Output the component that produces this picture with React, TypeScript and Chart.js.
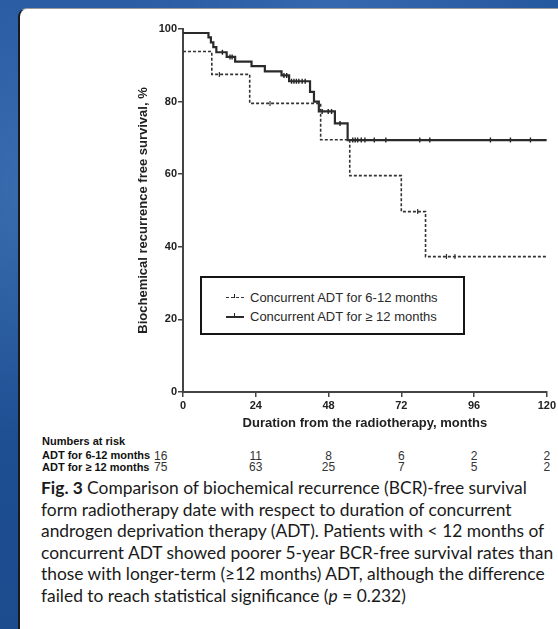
import React, { useEffect, useRef, useState } from "react";
import { Chart, registerables } from "chart.js";
Chart.register(...registerables);

// ADT for 6-12 months (Kaplan-Meier steps)
const shortTimes = [0, 9.5, 22, 45.4, 55, 72, 80, 120];
const shortSurv = [93.8, 87.5, 79.5, 69.5, 59.6, 49.7, 37.3, 37.3];
const shortCensorTimes = [12, 28.7, 77.4, 86.9, 89.7];
const shortCensorSurv = [87.5, 79.5, 49.7, 37.3, 37.3];

// ADT for >= 12 months (Kaplan-Meier steps)
const longTimes = [0, 8.4, 9.2, 10.0, 11.0, 14.4, 17.2, 22.6, 27.0, 32.5, 35.0, 41.9, 43.2, 44.8, 50.1, 54.3, 120];
const longSurv = [98.9, 97.7, 96.3, 95.0, 93.6, 92.3, 91.0, 89.8, 88.3, 87.2, 85.6, 82.7, 80.0, 77.3, 74.0, 69.4, 69.4];
const longCensorTimes = [13.0, 15.5, 16.2, 33.3, 34.2, 35.8, 36.6, 37.4, 38.2, 39.3, 40.3, 45.9, 47.9, 49.0, 51.8, 56.0, 56.8, 57.6, 58.8, 60.0, 63.1, 66.9, 78.1, 81.4, 101.4, 108.0, 114.6];
const longCensorSurv = [93.6, 92.3, 92.3, 87.2, 87.2, 85.6, 85.6, 85.6, 85.6, 85.6, 85.6, 77.3, 77.3, 77.3, 74.0, 69.4, 69.4, 69.4, 69.4, 69.4, 69.4, 69.4, 69.4, 69.4, 69.4, 69.4, 69.4];

// Numbers at risk
const riskTimes = [0, 24, 48, 72, 96, 120];
const riskShort = [16, 11, 8, 6, 2, 2];
const riskLong = [75, 63, 25, 7, 5, 2];

const seriesLabels = ["Concurrent ADT for 6-12 months", "Concurrent ADT for \u2265 12 months"];
const riskLabels = ["ADT for 6-12 months", "ADT for  \u2265 12 months"];

const captionLines = [
  "Comparison of biochemical recurrence (BCR)-free survival",
  "form radiotherapy date with respect to duration of concurrent",
  "androgen deprivation therapy (ADT). Patients with < 12 months of",
  "concurrent ADT showed poorer 5-year BCR-free survival rates than",
  "those with longer-term (\u226512 months) ADT, although the difference",
  "failed to reach statistical significance (",
];

const FONT = "'Liberation Sans', Arial, sans-serif";

const toPts = (xs: number[], ys: number[]) => xs.map((x, i) => ({ x, y: ys[i] }));

export default function App() {
  const canvasRef = useRef<HTMLCanvasElement>(null);
  const [riskX, setRiskX] = useState<number[]>([]);

  useEffect(() => {
    const chart = new Chart(canvasRef.current!, {
      type: "line",
      data: {
        datasets: [
          {
            label: seriesLabels[0],
            data: toPts(shortTimes, shortSurv),
            stepped: "before",
            borderColor: "#333",
            borderWidth: 1.6,
            borderDash: [3, 2],
            pointRadius: 0,
            fill: false,
          },
          {
            label: seriesLabels[1],
            data: toPts(longTimes, longSurv),
            stepped: "before",
            borderColor: "#2a2a2a",
            borderWidth: 2.2,
            pointRadius: 0,
            fill: false,
          },
          {
            type: "scatter",
            label: "censor-short",
            data: toPts(shortCensorTimes, shortCensorSurv),
            pointStyle: "line",
            rotation: 90,
            pointRadius: 2.5,
            borderColor: "#333",
            borderWidth: 1.2,
            showLine: false,
          } as any,
          {
            type: "scatter",
            label: "censor-long",
            data: toPts(longCensorTimes, longCensorSurv),
            pointStyle: "line",
            rotation: 90,
            pointRadius: 2.5,
            borderColor: "#222",
            borderWidth: 1.4,
            showLine: false,
          } as any,
        ],
      },
      options: {
        responsive: false,
        animation: false,
        layout: { padding: { left: 136, top: 29, right: 11, bottom: 0 } },
        plugins: { legend: { display: false }, tooltip: { enabled: false } },
        scales: {
          x: {
            type: "linear",
            min: 0,
            max: 120,
            afterFit: (s: any) => {
              s.height = 39;
            },
            ticks: { stepSize: 24, font: { family: FONT, size: 11, weight: "bold" }, color: "#222", padding: 2, maxRotation: 0 },
            grid: { drawOnChartArea: false, tickLength: 5, color: "#444", lineWidth: 1.5 },
            border: { color: "#444", width: 2 },
            title: {
              display: true,
              text: "Duration from the radiotherapy, months",
              font: { family: FONT, size: 13, weight: "bold" },
              color: "#222",
              padding: 0,
            },
          },
          y: {
            min: 0,
            max: 100,
            afterFit: (s: any) => {
              s.width = 47;
            },
            ticks: { stepSize: 20, font: { family: FONT, size: 11, weight: "bold" }, color: "#222", padding: 1 },
            grid: { drawOnChartArea: false, tickLength: 5, color: "#444", lineWidth: 1.5 },
            border: { color: "#444", width: 2 },
            title: {
              display: true,
              text: "Biochemical recurrence free survival, %",
              font: { family: FONT, size: 13, weight: "bold" },
              color: "#222",
              padding: 0,
            },
          },
        },
      },
    });
    setRiskX(riskTimes.map((t) => chart.scales.x.getPixelForValue(t)));
    return () => chart.destroy();
  }, []);

  const abs = (s: React.CSSProperties): React.CSSProperties => ({ position: "absolute", ...s });

  const legendSample = (dashed: boolean) => (
    <div style={abs({ left: 0, top: 0, width: 18, height: 8 })}>
      <div
        style={abs({
          left: 0,
          top: 3,
          width: 18,
          height: 0,
          borderTop: dashed ? "1.5px dashed #333" : "2px solid #2a2a2a",
        })}
      />
      <div style={abs({ left: 8, top: 0, width: 1.3, height: 4, background: "#222" })} />
    </div>
  );

  return (
    <div
      style={{
        position: "fixed",
        left: 0,
        top: 0,
        width: 558,
        height: 629,
        overflow: "hidden",
        background:
          "radial-gradient(ellipse at 10% 30%, rgba(90,140,205,0.45), rgba(0,0,0,0) 40%), radial-gradient(ellipse at 60% 0%, rgba(80,130,200,0.4), rgba(0,0,0,0) 45%), linear-gradient(180deg, #24589f, #1c4b8e)",
      }}
    >
      <div
        style={abs({
          left: 18,
          top: 8,
          width: 560,
          height: 640,
          background: "#fff",
          borderLeft: "2.5px solid #1a1a1a",
          borderTop: "1px solid #9a9a9a",
          borderTopLeftRadius: 9,
          boxSizing: "border-box",
        })}
      />
      <canvas ref={canvasRef} width={558} height={431} style={abs({ left: 0, top: 0, width: 558, height: 431 })} />

      {/* Legend */}
      <div
        style={abs({
          left: 200,
          top: 276,
          width: 265,
          height: 59,
          border: "2px solid #151515",
          background: "#fff",
          boxSizing: "border-box",
        })}
      >
        {seriesLabels.map((lab, i) => (
          <div key={i} style={abs({ left: 0, top: 12 + i * 19, width: 260, height: 16 })}>
            <div style={abs({ left: 24, top: 4 })}>{legendSample(i === 0)}</div>
            <div
              style={abs({
                left: 48,
                top: 0,
                font: `13px ${FONT}`,
                lineHeight: "16px",
                color: "#2a2a2a",
                whiteSpace: "nowrap",
              })}
            >
              {lab}
            </div>
          </div>
        ))}
      </div>

      {/* Numbers at risk */}
      <div style={abs({ left: 42, top: 434.5, font: `bold 11px ${FONT}`, lineHeight: "13px", color: "#111", whiteSpace: "nowrap" })}>
        Numbers at risk
      </div>
      {[riskShort, riskLong].map((row, r) => (
        <React.Fragment key={r}>
          <div
            style={abs({
              left: 42,
              top: 449 + r * 11.5,
              font: `bold 11px ${FONT}`,
              lineHeight: "13px",
              color: "#111",
              whiteSpace: "nowrap",
            })}
          >
            {riskLabels[r]}
          </div>
          {row.map((v, i) =>
            i === 0 ? (
              <div key={i} style={abs({ left: 154, top: 448.5 + r * 11.5, font: `12px ${FONT}`, lineHeight: "14px", color: "#333" })}>
                {v}
              </div>
            ) : (
              <div
                key={i}
                style={abs({
                  left: (riskX[i] ?? 0) - 20,
                  width: 40,
                  textAlign: "center",
                  top: 448.5 + r * 11.5,
                  font: `12px ${FONT}`,
                  lineHeight: "14px",
                  color: "#333",
                })}
              >
                {v}
              </div>
            )
          )}
        </React.Fragment>
      ))}

      {/* Caption */}
      <div style={abs({ left: 41, top: 477, font: `17.4px Lato, 'Open Sans', sans-serif`, lineHeight: "21.6px", color: "#1a1a1a" })}>
        {captionLines.map((line, i) => (
          <div key={i} style={{ whiteSpace: "nowrap" }}>
            {i === 0 && <b>Fig. 3 </b>}
            {line}
            {i === 5 && (
              <>
                <i>p</i> = 0.232)
              </>
            )}
          </div>
        ))}
      </div>
    </div>
  );
}
